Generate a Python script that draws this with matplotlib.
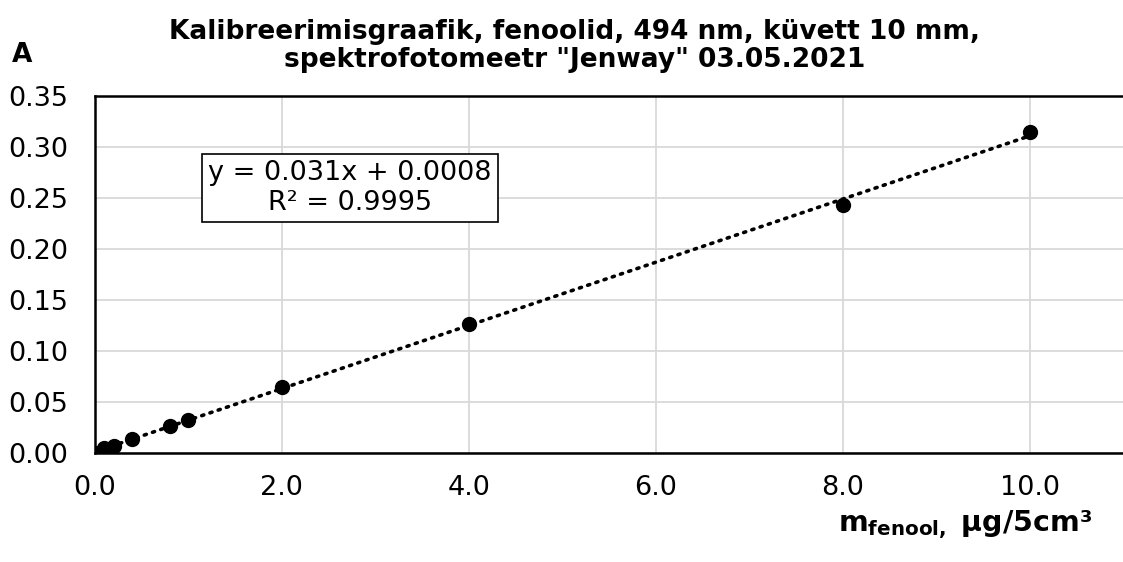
import numpy as np
import matplotlib.pyplot as plt
from matplotlib.ticker import FormatStrFormatter, MultipleLocator

# calibration data
mass = [0.0, 0.1, 0.2, 0.4, 0.8, 1.0, 2.0, 4.0, 8.0, 10.0]
absorbance = [0.000, 0.005, 0.007, 0.014, 0.026, 0.032, 0.065, 0.126, 0.243, 0.315]
eq_text = 'y = 0.031x + 0.0008\nR² = 0.9995'
title = 'Kalibreerimisgraafik, fenoolid, 494 nm, küvett 10 mm,\nspektrofotomeetr "Jenway" 03.05.2021'

fig = plt.figure(figsize=(11.23, 5.62), dpi=100)
ax = fig.add_axes([0.0846, 0.194, 0.9154, 0.635])

# linear trendline
k, b = np.polyfit(mass, absorbance, 1)
xs = np.array([0.0, 10.0])
ax.plot(xs, k * xs + b, color='black', linestyle=(0, (0.6, 1.8)), linewidth=2.6,
        dash_capstyle='round', zorder=2)
ax.plot(mass, absorbance, 'o', color='black', markersize=10, zorder=3)

ax.set_xlim(0, 11)
ax.set_ylim(0, 0.35)
ax.xaxis.set_major_locator(MultipleLocator(2))
ax.yaxis.set_major_locator(MultipleLocator(0.05))
ax.xaxis.set_major_formatter(FormatStrFormatter('%.1f'))
ax.yaxis.set_major_formatter(FormatStrFormatter('%.2f'))
ax.tick_params(length=0, labelsize=19.5)
ax.tick_params(axis='x', pad=16)
ax.tick_params(axis='y', pad=19)
ax.grid(True, color='#d9d9d9', linewidth=1.3)
ax.set_axisbelow(True)
for s in ['left', 'bottom', 'top']:
    ax.spines[s].set_linewidth(1.8)
ax.spines['right'].set_visible(False)

ax.text(2.73, 0.26, eq_text, ha='center', va='center', fontsize=19.5, linespacing=1.2,
        bbox=dict(boxstyle='square,pad=0.22', facecolor='white', edgecolor='black', linewidth=1.2))

fig.text(0.512, 0.918, title, ha='center', va='center', fontsize=19, fontweight='bold',
         linespacing=1.12)
fig.text(0.011, 0.902, 'A', fontsize=19, fontweight='bold', va='center')
fig.text(0.972, 0.066, r'$\mathbf{m}_{\mathbf{fenool,}}$ µg/5cm³', ha='right', va='center',
         fontsize=20.5, fontweight='bold')

fig.savefig('out.png', dpi=100)
